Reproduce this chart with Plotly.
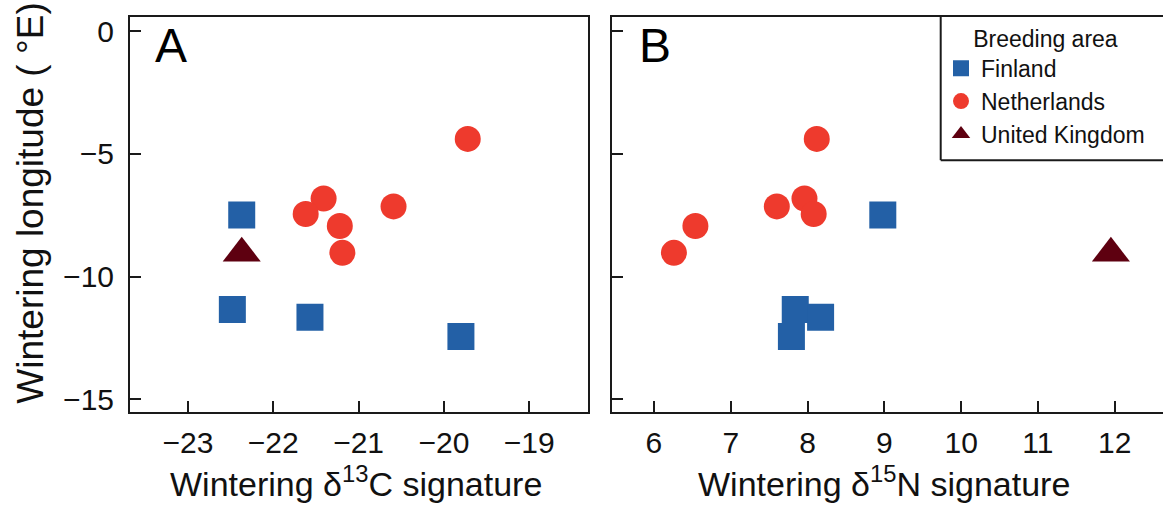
import plotly.graph_objects as go

# ---- data ----
groups = ["Finland", "Netherlands", "United Kingdom"]
fin_d13c = [-22.37, -22.48, -21.57, -19.80]
fin_d15n = [8.98, 7.84, 8.17, 7.79]
fin_lon = [-7.49, -11.34, -11.65, -12.44]

ned_d13c = [-19.72, -21.41, -21.62, -21.22, -21.19, -20.59]
ned_d15n = [8.12, 7.96, 8.08, 6.54, 6.26, 7.60]
ned_lon = [-4.39, -6.82, -7.45, -7.94, -9.03, -7.14]

uk_d13c = [-22.37]
uk_d15n = [11.95]
uk_lon = [-9.05]

x_ticks_c = [-23, -22, -21, -20, -19]
x_ticks_n = [6, 7, 8, 9, 10, 11, 12]
y_ticks = [0, -5, -10, -15]

colors = {"Finland": "#2360A6", "Netherlands": "#EE3A2D", "United Kingdom": "#5E0010"}
symbols = {"Finland": "square", "Netherlands": "circle", "United Kingdom": "triangle-up"}
sizes = {"Finland": 27, "Netherlands": 26, "United Kingdom": 33}

series = {
    "Finland": (fin_d13c, fin_d15n, fin_lon),
    "Netherlands": (ned_d13c, ned_d15n, ned_lon),
    "United Kingdom": (uk_d13c, uk_d15n, uk_lon),
}

W, H = 1163, 521
FONT = "Liberation Sans, Arial, Helvetica, sans-serif"

fig = go.Figure()
for g in groups:
    c, n, lon = series[g]
    mk = dict(symbol=symbols[g], size=sizes[g], color=colors[g], line=dict(width=0))
    fig.add_trace(go.Scatter(x=c, y=lon, mode="markers", marker=mk, name=g,
                             legendgroup=g, showlegend=True, xaxis="x", yaxis="y"))
    fig.add_trace(go.Scatter(x=n, y=lon, mode="markers", marker=mk, name=g,
                             legendgroup=g, showlegend=False, xaxis="x2", yaxis="y2"))

def px_x(p):
    return p / W

def px_y(p):
    return 1 - p / H

ydom = [px_y(415), px_y(15)]
yrange = [-15.52, 0.58]

common_axis = dict(showgrid=False, zeroline=False, showline=True, linecolor="#1a1a1a",
                   linewidth=2, ticks="inside", ticklen=11, tickwidth=1.6,
                   tickcolor="#1a1a1a", tickfont=dict(size=30, color="#111", family=FONT))

box_line = dict(color="#1a1a1a", width=2)

fig.update_layout(
    width=W, height=H,
    margin=dict(l=0, r=0, t=0, b=0),
    paper_bgcolor="white", plot_bgcolor="white",
    font=dict(family=FONT, color="#111"),
    xaxis=dict(domain=[px_x(130), px_x(588)], range=[-23.68, -18.31], tickvals=x_ticks_c,
               mirror=True, anchor="y", ticklabelstandoff=3, **common_axis),
    yaxis=dict(domain=ydom, range=yrange, tickvals=y_ticks, mirror=True, anchor="x",
               ticklabelstandoff=8, **common_axis),
    xaxis2=dict(domain=[px_x(611.7), 1], range=[5.45, 5.45 + (W - 611.7) / 76.8],
                tickvals=x_ticks_n, mirror=True, anchor="y2", ticklabelstandoff=3, **common_axis),
    yaxis2=dict(domain=ydom, range=yrange, tickvals=y_ticks, mirror=False, anchor="x2",
                showticklabels=False, **common_axis),
    showlegend=True,
    legend=dict(x=px_x(941), y=px_y(15), xanchor="left", yanchor="top",
                bgcolor="rgba(0,0,0,0)", borderwidth=0,
                font=dict(size=23, family=FONT, color="#111"),
                title=dict(text="Breeding area", side="top center",
                           font=dict(size=23, family=FONT, color="#111")),
                itemsizing="trace", tracegroupgap=0),
    shapes=[
        dict(type="line", xref="paper", yref="paper",
             x0=px_x(940.7), x1=px_x(940.7), y0=px_y(160), y1=px_y(15), line=box_line),
        dict(type="line", xref="paper", yref="paper",
             x0=px_x(940.7), x1=1, y0=px_y(160), y1=px_y(160), line=box_line),
    ],
    annotations=[
        dict(text="A", x=px_x(153), y=px_y(44), xref="paper", yref="paper",
             xanchor="left", yanchor="middle", showarrow=False,
             font=dict(size=48, family=FONT, color="#000")),
        dict(text="B", x=px_x(637), y=px_y(44), xref="paper", yref="paper",
             xanchor="left", yanchor="middle", showarrow=False,
             font=dict(size=48, family=FONT, color="#000")),
        dict(text="Wintering δ<sup>13</sup>C signature", x=px_x(356), y=px_y(485),
             xref="paper", yref="paper", xanchor="center", yanchor="middle",
             showarrow=False, font=dict(size=34, family=FONT, color="#111")),
        dict(text="Wintering δ<sup>15</sup>N signature", x=px_x(884), y=px_y(485),
             xref="paper", yref="paper", xanchor="center", yanchor="middle",
             showarrow=False, font=dict(size=34, family=FONT, color="#111")),
        dict(text="Wintering longitude ( °E)", x=px_x(31), y=px_y(204), textangle=-90,
             xref="paper", yref="paper", xanchor="center", yanchor="middle",
             showarrow=False, font=dict(size=37, family=FONT, color="#111")),
    ],
)

fig.write_html("out.html", config={"displayModeBar": False},
               post_script="document.body.style.margin='0';document.body.style.padding='0';"
                           "document.body.style.overflow='hidden';")
